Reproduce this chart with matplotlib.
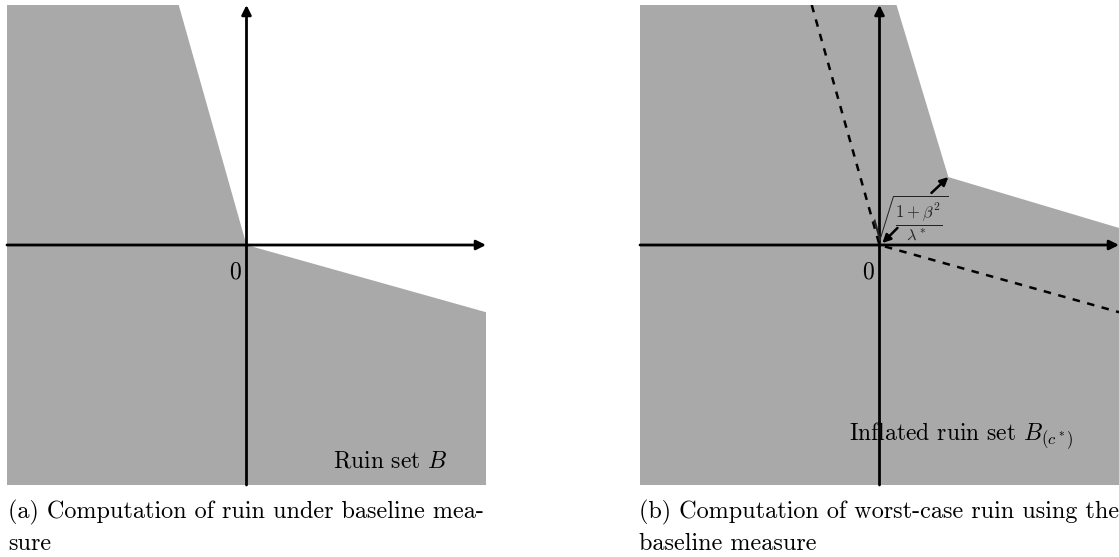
import matplotlib
matplotlib.use('Agg')
import matplotlib.pyplot as plt

plt.rcParams['font.family'] = ['cmr10', 'DejaVu Serif']
plt.rcParams['mathtext.fontset'] = 'cm'
plt.rcParams['axes.unicode_minus'] = False

# Ruin set B (panel a), polygon in axis units
ruin_x = [-1, -0.283, 0, 1, 1, -1]
ruin_y = [1, 1, 0, -0.28, -1, -1]

# Inflated ruin set B_(c*) (panel b)
inflated_x = [-1, 0.071, 0.2875, 1, 1, -1]
inflated_y = [1, 1, 0.283, 0.071, -1, -1]

# boundary of original set, dashed in panel b
dash_x = [-0.283, 0, 1]
dash_y = [1, 0, -0.28]

# distance arrows (start, end)
arrow_in = [(0.075, 0.071), (0.012, 0.008)]
arrow_out = [(0.217, 0.217), (0.2875, 0.283)]
dist_label = r'$\sqrt{\frac{1+\beta^2}{\lambda^*}}$'

captions_a = ['(a) Computation of ruin under baseline mea-', 'sure']
captions_b = ['(b) Computation of worst-case ruin using the', 'baseline measure']

gray = '#a9a9a9'
W, H = 1119, 557


def draw_axes(ax):
    ax.set_xlim(-1, 1)
    ax.set_ylim(-1, 1)
    ax.axis('off')
    ax.annotate('', xy=(1.0, 0), xytext=(-1, 0),
                arrowprops=dict(arrowstyle='-|>', color='black', lw=2,
                                mutation_scale=14, shrinkA=0, shrinkB=0))
    ax.annotate('', xy=(0, 1.0), xytext=(0, -1),
                arrowprops=dict(arrowstyle='-|>', color='black', lw=2,
                                mutation_scale=14, shrinkA=0, shrinkB=0))
    ax.text(-0.05, -0.115, '0', fontsize=17, ha='center', va='center')


fig = plt.figure(figsize=(W / 100, H / 100), dpi=100)

# Panel (a)
ax1 = fig.add_axes([7 / W, (H - 485) / H, 479 / W, 480 / H])
ax1.fill(ruin_x, ruin_y, color=gray, lw=0)
draw_axes(ax1)
ax1.text(0.6, -0.925, 'Ruin set $B$', fontsize=17, ha='center', va='baseline')

# Panel (b)
ax2 = fig.add_axes([640 / W, (H - 485) / H, 479 / W, 480 / H])
ax2.fill(inflated_x, inflated_y, color=gray, lw=0)
ax2.plot(dash_x, dash_y, color='black', lw=1.8, ls=(0, (3, 3)))
draw_axes(ax2)
for a in (arrow_in, arrow_out):
    ax2.annotate('', xy=a[1], xytext=a[0],
                 arrowprops=dict(arrowstyle='-|>', color='black', lw=1.8,
                                 mutation_scale=12, shrinkA=0, shrinkB=0))
ax2.text(0.12, 0.11, dist_label, fontsize=17, ha='center', va='center',
         color='#222222')
ax2.text(0.34, -0.8125, r'Inflated ruin set $B_{(c^*)}$', fontsize=17,
         ha='center', va='baseline')

# Captions
fig.text(8 / W, 1 - 518 / H, captions_a[0], fontsize=17.4, va='baseline')
fig.text(8 / W, 1 - 550 / H, captions_a[1], fontsize=17.4, va='baseline')
fig.text(639 / W, 1 - 518 / H, captions_b[0], fontsize=17.4, va='baseline')
fig.text(639 / W, 1 - 550 / H, captions_b[1], fontsize=17.4, va='baseline')

fig.savefig('out.png', dpi=100)
